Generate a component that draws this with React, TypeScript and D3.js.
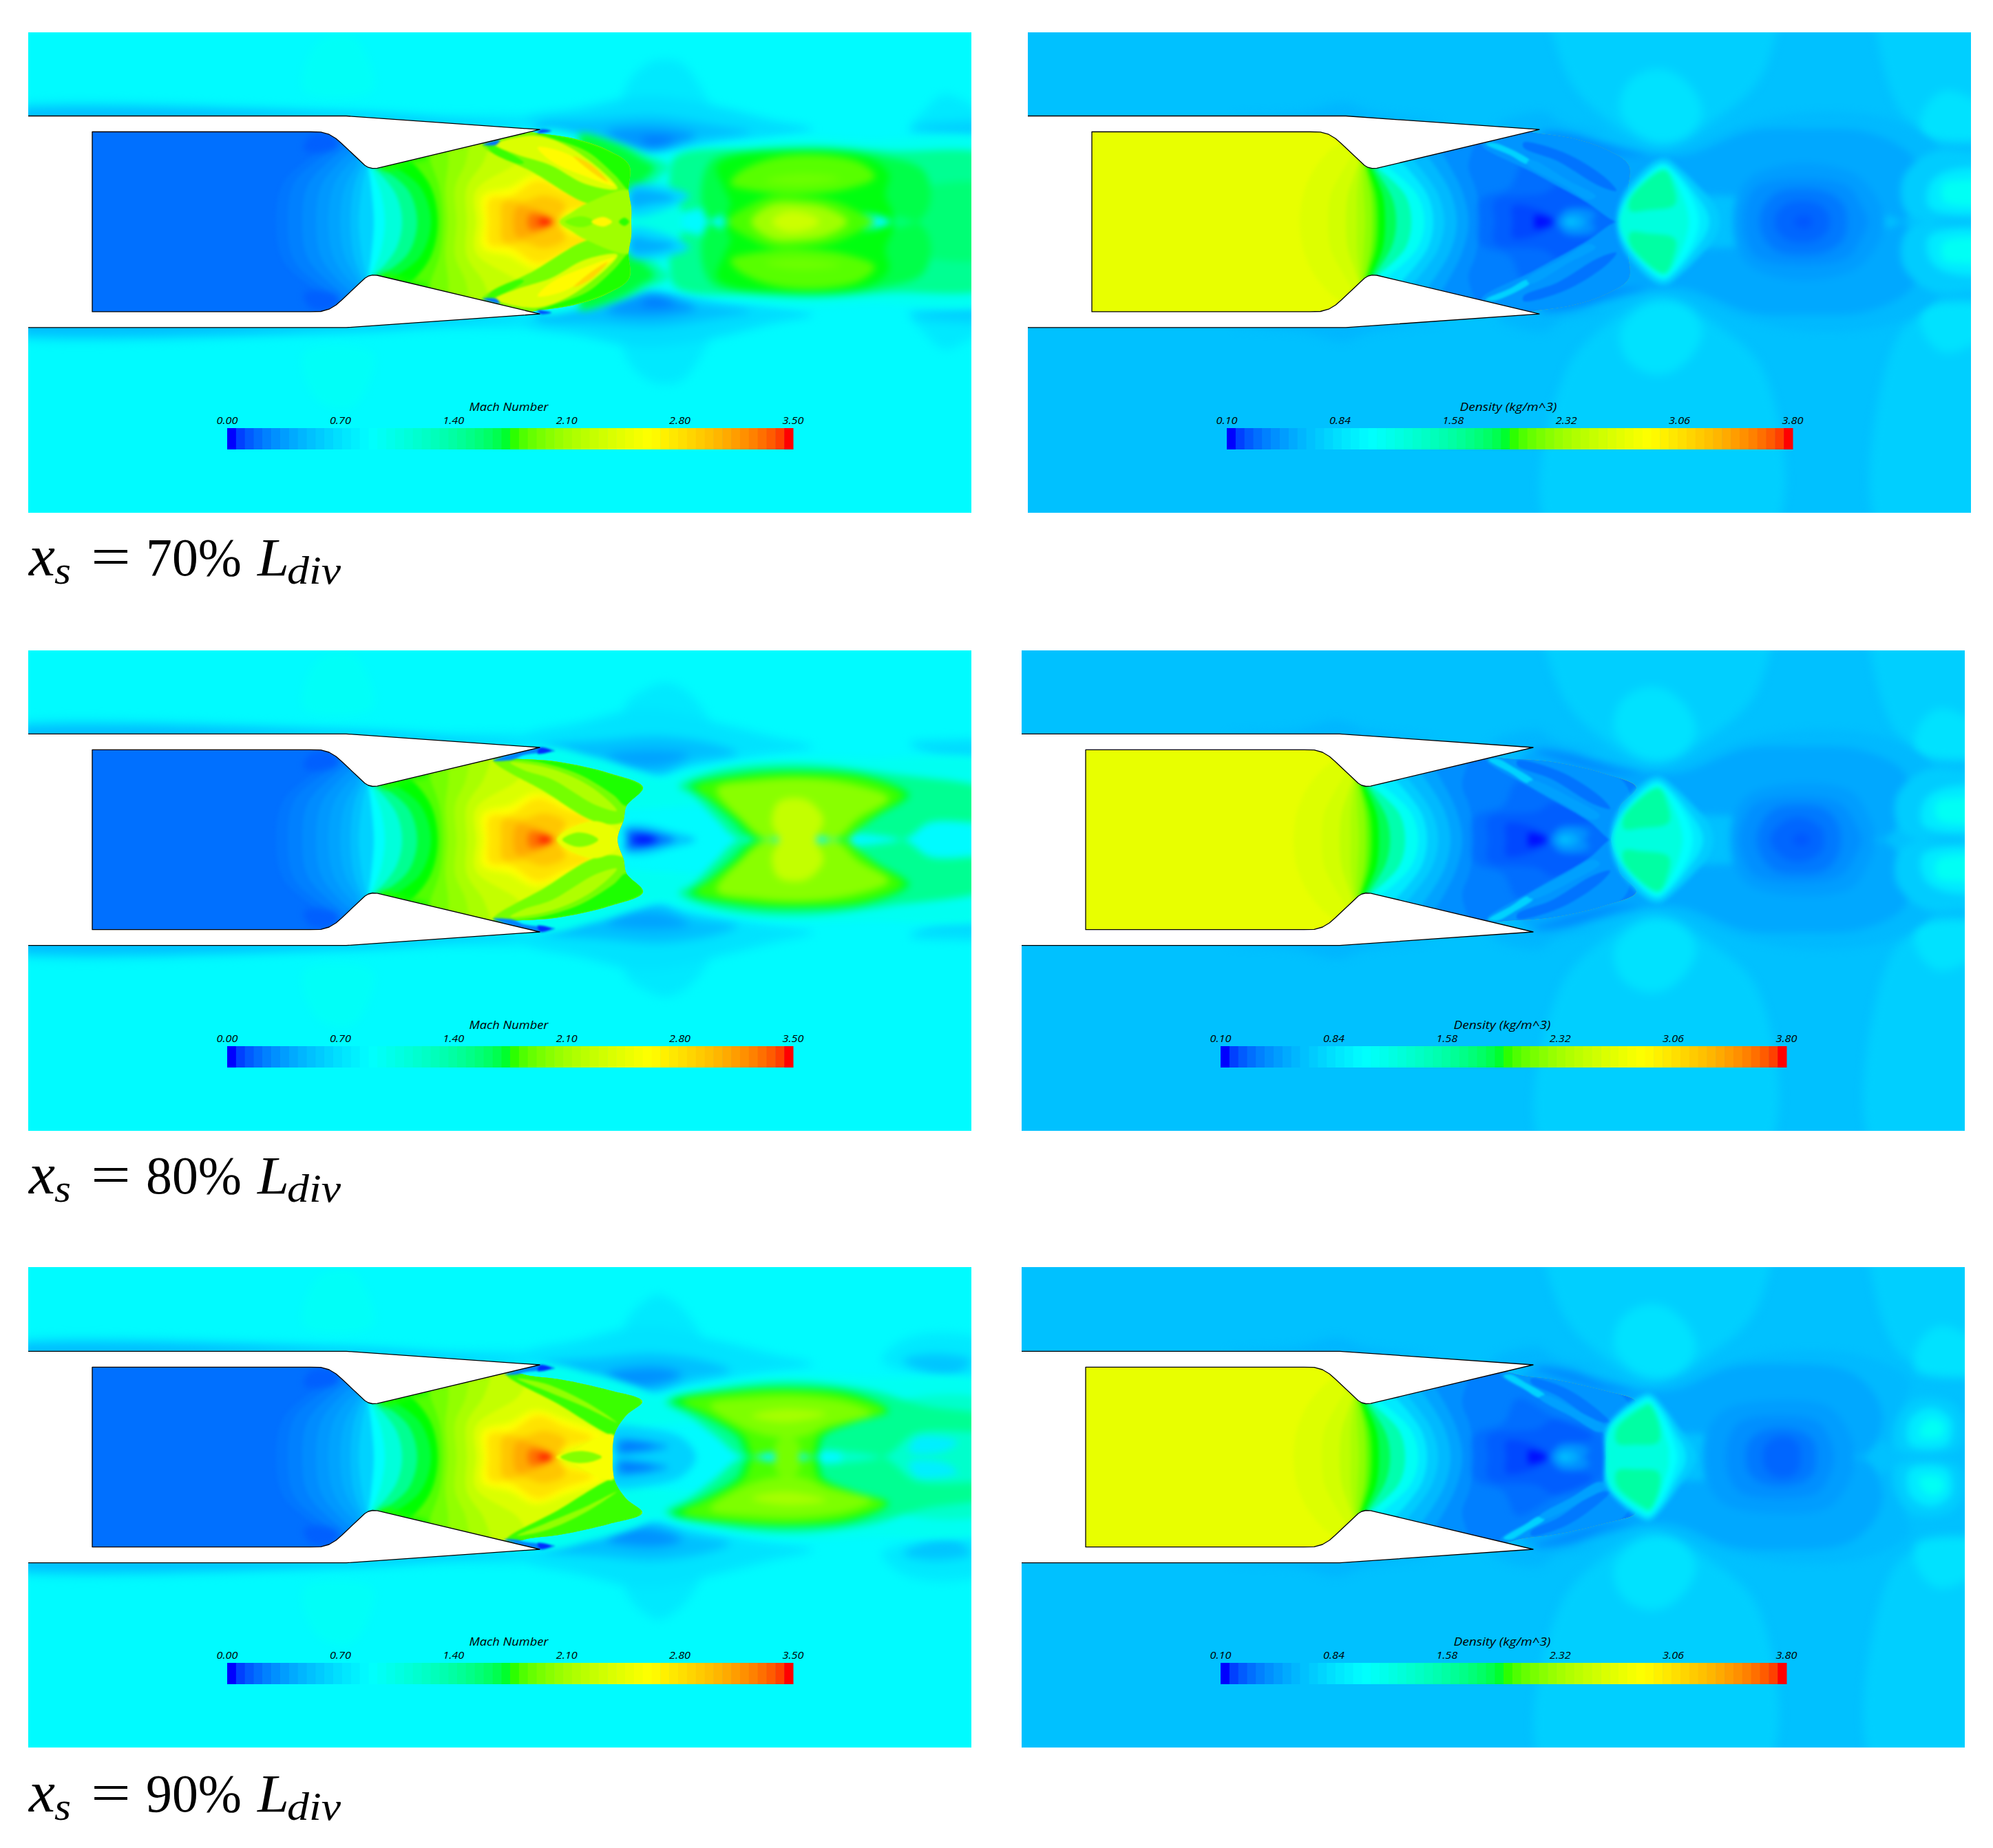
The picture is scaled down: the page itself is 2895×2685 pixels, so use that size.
import React from "react";
import * as d3 from "d3";

type Layer = number[];

const machTicks = ["0.00", "0.70", "1.40", "2.10", "2.80", "3.50"];
const densityTicks = ["0.10", "0.84", "1.58", "2.32", "3.06", "3.80"];
const rowLabels = ["70%", "80%", "90%"];

const wallOutline: number[] = [-2,15.37, 46.2,15.37, 74.3,13.4, 50.7,7.78, 50,7.75, 49.4,7.9, 48.9,8.2, 45.5,11.4, 44.7,12.1, 43.7,12.7, 42.5,13.03, 41,13.07, 9.3,13.07];

const machChamberArcs: Layer[] = [
  [.41, 36,0, 37,5.6, 41,9.4, 44.5,12],
  [.44, 37.7,0, 38.6,5.6, 42.6,9.4, 45.8,11.8],
  [.48, 39.8,0, 40.6,5.3, 44,9.1, 46.7,11.2],
  [.52, 41.8,0, 42.5,5.1, 45.3,8.8, 47.6,10.7],
  [.56, 43.6,0, 44.3,5.1, 46.6,8.5, 48,9.5],
  [.6, 45.3,0, 46,5.1, 47.8,8.3],
  [.66, 46.8,0, 47.3,5.1, 48.5,8.2],
  [.72, 48,0, 48.5,5.1, 49.1,8],
  [.87, 50.2,0, 49.8,5.1, 49.4,8],
  [1.0, 51.8,0, 51.1,4.6, 49.7,8],
  [1.25, 54.3,0, 53.4,4, 50.2,8],
  [1.55, 56.5,0, 55.2,4.6, 51.1,8],
  [1.75, 58.5,0, 56.9,5.1, 52.5,8.4],
  [2.03, 59.5,0, 58.5,5, 55.9,8.5, 54.5,9.5],
  [2.15, 60.2,0, 59.7,5, 58.5,8.5, 58,10],
  [2.25, 60.9,0, 60.6,5, 61,8.5, 61,11],
  [2.33, 62.2,0, 62,5, 63.5,8.5, 64,11],
  [2.42, 63.7,0, 63.7,5, 66,8.5, 67,11],
  [2.5, 65,0, 65,4.5, 70.9,8.5, 72,10],
];
const machCore: Layer[] = [
  [.33, 40,10.5, 41,12.5, 44,12.6, 45,11, 42,10],
  [1.85, 50.7,8.2, 55,9.6, 58,10.2, 58,9.3, 55,8.5, 52,7.4],
  [2.62, 66,0, 66,3.8, 70,5, 73.5,6.8, 78,5.5, 84,3, 77,0],
  [2.72, 66.8,0, 67,3.3, 70,3.7, 74,6, 78,4.4, 82,2.8, 78,1.3, 77,0],
  [2.82, 68.7,0, 69,2.9, 72,3, 75,3.8, 78,2.5, 77,0],
  [2.92, 70.5,0, 71,2.2, 73,2, 75.9,.8, 76.5,0],
  [3.11, 72.5,0, 73,1.2, 75,.8, 76.3,0],
  [3.3, 74,0, 74.4,.7, 75.5,.5, 76.2,0],
  [3.48, 74.8,0, 75.3,.3, 75.9,0],
];

const mach70Barrel: Layer = [48,0, 48,8.5, 50.7,8.2, 60,10.5, 66,12, 72,13.3, 73.6,12.95, 79.2,12.1, 84.2,10.4, 87.3,8.2, 87.2,4.5, 87.6,2, 87.6,0];
const mach80Barrel: Layer = [48,0, 48,8.5, 50.7,8.2, 60,10.5, 67.5,12.1, 70.3,11.8, 76.7,11.35, 84.4,9.65, 89.3,7.6, 86.9,4.9, 86.5,2.9, 85.6,0];
const mach90Barrel: Layer = [48,0, 48,8.5, 50.7,8.2, 60,10.5, 69.1,12.5, 72.9,11.8, 77.4,11.25, 84.4,9.7, 89.2,8.1, 86.9,6.1, 85.3,3.7, 84.9,1.7, 84.9,0];

const mach70Outer: Layer[] = [
  [.9, 40,19, 42,26, 47,27, 50,22, 50,19],
  [.8, 86,14, 87,20, 90,23, 92.5,23.6, 95,23, 98,19, 100,14, 93,11],
  [.8, 128,13, 130,16, 133,18.5, 136,17.5, 141,14, 141,13],
  [.8, -5,16.4, 46,16.3, 60,15.6, 74,15, 74,14, 46,15, -5,15],
  [.66, -5,15.8, 46,15.8, 60,14.8, 74,13.9, 60,14, 46,15, -5,15],
  [.76, 72,15, 80,16.5, 90,18.2, 100,16.8, 108,14.8, 114,13.5, 108,12.3, 100,11.5, 90,10, 74,13],
  [.66, 74,14.2, 82,14.8, 91,15.3, 100,14, 105,13, 96,11.5, 91,9.8, 84,11, 74,13],
  [.72, 128,13.8, 133,14.5, 141,14.2, 141,12.8, 133,12.8],
  [.52, 84,13, 91,13.7, 97,12.5, 92,10.8, 88,11],
  [.42, 89,12, 92,12.3, 94,11.8, 92,11, 90,11],
];
const mach70Plume: Layer[] = [
  [.92, 74,13, 80,12.8, 86,11, 90,9.7, 92,9.6, 100,11, 112,12.3, 122,11.9, 141,11, 141,0, 70,0],
  [1.25, 94,9.4, 105,10.7, 115,11, 125,10.3, 141,9, 141,0, 92,0, 93,5],
  [1.35, 125,0, 127,4, 141,5, 141,0],
  [1.5, 99,8.7, 108,10.2, 116,10.5, 124,9.5, 130,7.5, 131,3, 129,0, 99,0],
  [1.7, 100,8, 103,9.7, 112,10.2, 122,9.3, 125,7, 124.5,4, 125.5,0, 101,0, 102,2.5, 101,5],
  [2.05, 103,7, 108,9.2, 115,9.7, 121,8.5, 123,6.5, 119,4.8, 112,4, 105,4.6, 102,5.5],
  [2.12, 107,6, 112,7, 118,6.3, 112,5.3],
  [2.0, 101.6,0, 105,2.5, 108,3.7, 112,3.7, 117,3, 121,1.2, 123,0],
  [2.3, 105,0, 108,2.5, 112,2.7, 116,2, 119,0],
  [2.45, 108,0, 110,1.4, 113,1.2, 115,0],
  [.95, 87,0, 87.5,6, 90.5,7, 93,5.5, 94.5,3, 95,0],
  [1.2, 80,12.8, 86,11.4, 90,9.6, 93,8, 91.5,6.4, 88.5,4.6, 85,5],
  [1.55, 80,12.5, 86,11, 89,9.2, 91,7.8, 89.5,6.2, 87.8,4.6, 85,5],
  [.74, 87.5,1, 87.5,5.2, 91,5.4, 96,3.8, 92,1.6],
  [.6, 87.7,2.3, 87.7,4.4, 91,4.4, 94,3.4, 90.5,2.6],
];
const mach70Shocks: Layer[] = [
  [2.15, 65.9,11.3, 73.5,7.1, 81.2,2.7, 85,2.7, 88,3, 88.5,11, 76,13.3],
  [1.85, 73.6,12.95, 79.2,12.1, 84.2,10.4, 87.3,8.4, 87.3,4.6, 85.2,6.8, 81.2,10.2, 75.9,12.2],
  [2.5, 67.9,11.2, 73.6,12.5, 79.2,10.5, 85.6,4.8, 80.9,5.5, 75.9,8.2, 70.9,9.8],
  [2.64, 74,10.8, 78,10, 85.2,5.2, 81.2,6.5, 76,8.8],
  [2.76, 79.2,9.5, 81.9,8.2, 84.2,5.8, 81.9,7.2],
  [1.95, 66.5,11.3, 68,10.9, 72,8.6, 71.5,8.4, 67.5,10],
  [2.3, 77.2,0, 79,1.4, 81.2,2.7, 87.3,4.5, 87.6,0],
  [2.15, 78,0, 79.5,.7, 81,.7, 82.2,0],
  [2.65, 81.8,0, 83.5,.7, 84.8,0],
  [1.9, 85.8,0, 86.6,.6, 87.3,0],
];
const mach70After: Layer[] = [
  [.4, 66,11.2, 68.5,11.9, 68,11.2],
  [.25, 74.4,13.4, 76,13.2, 74,12.9],
];

const mach80Outer: Layer[] = [
  [.9, 40,19, 42,26, 47,27, 50,22, 50,19],
  [.8, 86,14, 87,20, 90,22, 92.5,22.8, 95,22, 98,19, 100,14, 93,11],
  [.8, -5,16.4, 46,16.3, 60,15.6, 74,15, 74,14, 46,15, -5,15],
  [.66, -5,15.8, 46,15.8, 60,14.8, 74,13.9, 60,14, 46,15, -5,15],
  [.78, 72,15, 80,17, 90,19, 100,17, 108,15, 114,13.5, 105,12, 95,10, 90,9.5, 80,11.5, 74,13],
  [.66, 75,13.5, 84,14.5, 92,15, 100,13.8, 103,12.5, 96,11.2, 92,9.3, 86,10.5],
  [.76, 128,14, 133,14.5, 141,14, 141,12.5, 133,12],
  [.56, 84,12.2, 91,13, 96,12.3, 92,10.8, 88,10.8],
];
const mach80Plume: Layer[] = [
  [.92, 74,13, 82,12, 88,10, 92,8.9, 96,10, 105,11.5, 112.4,12, 122,11.8, 141,10.5, 141,0, 70,0],
  [1.25, 94.5,7.7, 100,10, 112,11, 125,9.6, 141,6.5, 141,3, 131,2.5, 127,0, 103.5,0, 100,3, 96.5,6.5],
  [1.6, 96,7.8, 103,9.5, 112.4,10, 122,9.2, 128,6.5, 123.5,3.5, 120.5,1.5, 118.3,0, 105.5,0, 102,3, 98.5,6],
  [1.95, 97,7.6, 104,9.2, 112.4,9.6, 122,8.8, 127,6.4, 123,3.5, 120.5,1.5, 118.8,0, 106.5,0, 103,3, 99,6],
  [2.22, 100,7.4, 106,8.6, 113,8.9, 120,8, 125,6, 120.5,3, 117,0, 107.5,0, 103.5,3],
  [2.42, 109,0, 108,2.5, 109,5.5, 113,5.8, 115.5,3, 114.5,0],
  [.68, 86.5,0, 86.5,1.8, 89,2.2, 93,1.3, 97,0],
  [.4, 87,0, 87,1.3, 90,1.2, 92.5,.6, 94,0],
  [.15, 87.5,0, 88,.7, 90,.7, 91.5,0],
  [.05, 88.5,0, 89,.4, 90.5,.3, 91,0],
];
const mach80Shocks: Layer[] = [
  [2.15, 67.5,11.6, 75,7, 82.5,2.6, 86.5,2.6, 90,7.5, 77,12, 70,12.3],
  [1.85, 69,11.8, 76.7,11.4, 84.4,9.7, 89.3,7.6, 86.9,4.9, 85,6.5, 80,9.5, 74,11.3],
  [2.35, 70,11.2, 76,10.3, 82,7.5, 85.5,4.2, 82.5,5, 76,8.8, 72,10.1],
  [2.55, 76.8,0, 78.5,1.5, 82.5,2.7, 85.6,1.2, 85.7,0],
  [2.2, 77.6,0, 79.5,1, 81.5,.8, 82.8,0],
];
const mach80After: Layer[] = [
  [.45, 67.5,11.5, 70,12.4, 74.3,13.4, 76.5,12.9, 72,12.3, 70.3,11.6],
  [.15, 74.4,13.4, 76,12.9, 74,12.5],
];

const mach90Outer: Layer[] = [
  [.9, 40,19, 42,26, 47,27, 50,22, 50,19],
  [.8, 86,14, 87,20, 90,23, 91.5,23.6, 94,22.5, 97,19, 99,14, 93,11],
  [.8, -5,16.4, 46,16.3, 60,15.6, 74,15, 74,14, 46,15, -5,15],
  [.66, -5,15.8, 46,15.8, 60,14.8, 74,13.9, 60,14, 46,15, -5,15],
  [.78, 72,15, 80,17, 90,19, 100,17, 108,15, 114,13.5, 105,12, 95,10, 90,9.5, 80,11.5, 74,13],
  [.8, 124,14, 127,17, 134,18, 141,16, 141,12, 130,12],
  [.66, 75,13.5, 84,14.5, 91,15, 99,13.8, 102,12.5, 96,11.2, 91,9.3, 86,10.5],
  [.68, 127,14, 131.6,15, 137,14, 135,12.2, 131.6,12],
  [.5, 84,12, 90.8,13, 95,12, 91,10.5, 87,10.5],
];
const mach90Plume: Layer[] = [
  [.92, 74,13, 82,12, 88,10.2, 91,8.9, 96,10, 105,11.5, 112,12, 122,11.6, 141,10, 141,0, 70,0],
  [1.05, 118,0, 122,5, 128,8.5, 141,7.5, 141,0],
  [1.25, 92.5,8, 100,10, 111,11, 122,9.8, 130,7.5, 141,5.5, 141,4, 129,3.5, 124,0, 104,0, 100,3, 96,6],
  [1.65, 93.5,8.2, 102,9.6, 111,10, 120,9.2, 125,6.7, 120,5, 115.5,3, 114.5,0, 104.8,0, 103,3, 98,6],
  [2.0, 95,8.1, 103,9.4, 111,9.7, 119,8.9, 124.5,6.7, 119.5,5, 114.8,3, 113.7,0, 105.5,0, 104,3, 99,6],
  [2.18, 99,7.6, 106,8.6, 113,8.7, 120,7.6, 122.5,6.2, 116,4.5, 112.5,3, 108,3, 103.5,4.5],
  [2.15, 108.5,0, 108.5,1.8, 110,3, 112,2, 112,0],
  [2.32, 105,6, 110,7, 116,6.3, 110,5],
  [.82, 128,.8, 129,2.8, 132,3, 135,2.2, 133,.8],
  [.72, 85,0, 85,4.2, 90,4.2, 95,2.8, 97,0],
  [.55, 85.5,.6, 85.5,2.5, 89,2.5, 93,1.5, 89,.6],
  [.42, 86,1, 86.5,2, 89,1.9, 91,1.5, 88,1],
];
const mach90Shocks: Layer[] = [
  [1.95, 69.5,12, 77,7.7, 84.7,3.2, 86,3.2, 89.2,8.1, 80,11.5, 73,12.4],
  [2.25, 71,11.4, 75,10.7, 81,8, 85.5,5, 81,7.2, 75,9.7],
  [2.6, 76.7,0, 79,.9, 84.9,3.3, 85,0],
  [2.2, 77.3,0, 79.3,.8, 81.7,.7, 83.3,0],
];
const mach90After: Layer[] = [
  [.45, 69.1,12, 71,12.6, 74.3,13.4, 76.5,12.9, 72,12.3, 71,12],
  [.15, 74.4,13.4, 76,12.9, 74,12.5],
];

const densityChamberArcs: Layer[] = [
  [2.75, 39.5,0, 40,4, 41.5,7.5, 44,10.5, 45.5,11.5],
  [2.71, 43.6,0, 44,4, 45.5,7, 47,9.5],
  [2.64, 46.2,0, 46.5,4, 47.3,6.5, 48,8.5],
  [2.56, 47.8,0, 47.8,4, 48.2,8],
  [2.46, 49,0, 48.8,4, 48.6,8],
  [2.3, 50,0, 49.8,4, 49,8],
  [2.12, 50.6,0, 50.3,4, 49.2,8],
  [1.95, 51,0, 50.7,4, 49.4,8],
  [1.65, 51.9,0, 51.5,4, 49.8,7.8],
  [1.32, 53.5,0, 52.9,3.5, 50.3,7.8],
  [1.06, 55.7,0, 54.8,3.9, 50.8,7.8],
  [.95, 57.6,0, 56.5,4, 52,8.2],
  [.84, 58.9,0, 58,4, 54,9],
  [.77, 60.5,0, 59.5,4.2, 56,9],
  [.69, 62.3,0, 61.3,4.5, 58,9.7],
  [.62, 64,0, 63,4.7, 60,10.3],
  [.56, 65.9,0, 65,5, 64,8, 65,11.5],
];
const densityCore: Layer[] = [
  [.5, 65.5,0, 65.8,3.3, 70,5, 72,8.5, 77.5,5.8, 84,3.2, 86,0],
  [.44, 67.8,0, 67.8,3.1, 74.9,4.1, 77.4,5.5, 83,3, 77.5,1.1, 76.5,0],
  [.36, 70.4,0, 70.4,2.3, 73,2.2, 76.3,.7, 76.5,0],
  [.155, 73.6,0, 73.6,.9, 75.5,.6, 76.3,0],
  [.62, 77,0, 78,1.7, 81,1.9, 82.5,.9, 81.8,0],
  [.72, 77.6,0, 78.5,.9, 80.2,.9, 81,0],
  [.82, 78.2,0, 78.9,.4, 79.6,0],
];
const densityBands: Layer[] = [
  [.85, 76,45, 78,22, 84,15, 92,11, 100,15, 107,22, 108,45],
  [.85, 124,45, 125,20, 129,14, 141,14, 141,45],
  [.92, 86,16, 87,20, 90,22, 93,22, 96,20, 98,16, 96,12.5, 92.5,11.5, 89,12.5],
  [.92, 130,12.5, 130,16, 133,19, 137,18, 141,15, 141,12.5],
  [.76, 30,15.3, 40,16, 45.8,17.4, 50,16, 60,14.5, 46,14.5],
  [.76, 68,14, 74.9,16, 78,14, 84,13, 74,12.5],
];
const density70Rings: Layer[] = [
  [.77, 74,13.5, 84,12, 92,10, 105,14.5, 115,16, 125,15, 131,12, 135,8, 141,7, 141,0, 60,0],
  [.71, 74,13, 84,11.5, 91,9.8, 96,9.8, 105,13.2, 113,13.5, 122,13, 128,10, 130,6, 127,0, 70,0],
  [.67, 102.5,0, 103,3.5, 105,6.5, 112,8.5, 120,7, 123,4, 124.5,0],
  [.62, 104,0, 104.5,3, 106,5.2, 112.5,6.3, 119,5.2, 121,2.5, 122,0],
  [.54, 106.3,0, 107,2.5, 109,4.3, 112.5,4.8, 116,4.3, 118.5,2.5, 119,0],
  [.47, 108.5,0, 109,1.6, 110.5,2.7, 112.5,3, 114.5,2.7, 116,1.6, 116.5,0],
  [.42, 111.2,0, 112.5,1, 113.8,.6, 114,0],
  [.62, 74.5,13, 80,12.5, 86,10.5, 90,9.6, 85,9.8, 78,11.5],
  [.84, 128,1, 127,6, 131,10, 137,10, 141,9.5, 141,1],
  [.95, 131,2, 131,5.5, 134,7.5, 141,7, 141,2],
  [1.06, 133,3, 133,5.5, 135,6, 141,5.5, 141,3],
];
const density80Rings: Layer[] = [
  [.77, 74,13.5, 84,12, 92,10, 105,14.5, 115,16, 125,15, 131,12, 135,8, 141,7, 141,0, 60,0],
  [.71, 74,13, 84,11.5, 91,9.8, 96,9.8, 105,13.2, 113,13.5, 122,13, 128,10, 129,6, 125,0, 70,0],
  [.67, 103,0, 103.5,3.5, 105.5,6.5, 113,8.2, 120.5,7, 123,3.5, 124,0],
  [.62, 104.3,0, 105,3, 106.5,5.2, 113,6.3, 119,5.2, 121,2.5, 122,0],
  [.54, 106.8,0, 107.5,2.5, 109.5,4.5, 113,5, 116.5,4.5, 118.5,2.5, 119,0],
  [.47, 108.7,0, 109.5,1.6, 111,2.8, 113,3.2, 115,2.6, 116.3,1.5, 116.5,0],
  [.42, 111.9,0, 113,.9, 114.3,.6, 114.5,0],
  [.62, 74.5,13, 80,12.5, 86,10.5, 90,9.6, 85,9.8, 78,11.5],
  [.84, 128,1, 127,6, 131,10, 137,10, 141,9.5, 141,1],
  [.95, 131,2, 131,5.5, 134,7.5, 141,7, 141,2],
  [1.06, 133,3, 133,5.5, 135,6, 141,5.5, 141,3],
];
const density90Rings: Layer[] = [
  [.77, 74,13.5, 84,12, 91,10, 103,14, 113,15.5, 123,14.5, 129,11, 128,7, 131,0, 60,0],
  [.71, 74,13, 84,11.5, 90,9.8, 95,9.8, 103,13, 111,13.5, 120,12.5, 124,9, 125,5, 122,0, 70,0],
  [.67, 99,0, 99.5,3.5, 102,6.8, 109,8.2, 117,7.4, 120,4, 121,0],
  [.62, 102.3,0, 102.8,3, 104.5,5.2, 110,6, 115.5,5.2, 117.2,3, 118,0],
  [.54, 105.2,0, 105.5,2, 107,3.5, 110.3,4.2, 113.7,3.5, 115.2,2, 115.4,0],
  [.47, 107.7,0, 107.9,1.5, 109,2.6, 110.5,3, 112.2,2.6, 113,1.5, 113.1,0],
  [.62, 74.5,13, 80,12.5, 85,10.5, 89,9.6, 84,9.8, 78,11.5],
  [.84, 127,1.2, 127,5.5, 130,8.5, 135,8, 137,5, 136,1.2],
  [.95, 129,1.8, 129,5.5, 132,7.2, 135,5.5, 134.5,1.8],
  [1.06, 130.5,3, 131,5, 132.5,5.6, 134,4.5, 133.5,3],
];
const density70Shocks: Layer[] = [
  [.64, 65.9,11.3, 73.5,7.1, 81.2,2.8, 85.5,0, 88,0, 88,8, 84,11, 76,13],
  [.52, 72,11.5, 78,10, 84,6.3, 85.5,4.5, 83,5.2, 77,8.8, 72,10.8],
  [.86, 66.5,11.3, 70,9.7, 72.5,8.4, 73,8.8, 70.5,10.4, 67.5,11.5],
  [.68, 72.5,8.4, 78,5.2, 81.5,3.2, 82.5,3.7, 78.5,6, 73,9],
];
const density80Shocks: Layer[] = [
  [.64, 67.5,11.6, 75,7, 82.5,2.6, 85.6,0, 88,0, 88,7.6, 84,10.5, 76,12, 70,12.3],
  [.52, 72,11.5, 78,10, 84,6.3, 85.5,4.5, 83,5.2, 77,8.8, 72,10.8],
  [.86, 67.8,11.6, 71,9.7, 73.5,8.2, 74.3,8.6, 71.5,10.5, 69,11.8],
  [.68, 73.5,8.2, 79,5, 83,2.9, 84,3.5, 80,6, 74.3,8.6],
];
const density90Shocks: Layer[] = [
  [.64, 69.5,12, 77,7.7, 84.7,3.2, 85,0, 88,0, 88,8, 84,10.5, 76,12, 71,12.5],
  [.54, 74,11.4, 79,10, 84,6.6, 85.5,5, 83,5.5, 78,8.8, 74,10.8],
  [.86, 70,11.8, 73,9.9, 75.2,8.6, 76,9, 73.2,10.8, 71,12],
  [.68, 75.2,8.6, 80,5.8, 84,3.6, 85,4.2, 81,6.6, 76,9],
];
const lensWide: Layer[] = [
  [.84, 85.5,0, 86.5,4, 91,8.8, 92.7,9.2, 95,7.5, 98,4.5, 100,2, 100.5,0],
  [.95, 85.8,0, 87,3.5, 91,8, 92.5,8.5, 94.5,7, 97,4, 98.5,1.8, 99,0],
  [1.03, 85.9,0, 87,3.5, 91.5,7.9, 92.5,8.2, 94,7, 96.2,4, 97.2,1.8, 97.5,0],
  [1.14, 86,0, 87.2,3.3, 91.5,7.5, 92.5,7.8, 93.8,6.5, 95.2,3.5, 95.8,1.5, 96,0],
  [1.36, 87.5,1.6, 87.5,3.4, 91.5,7.2, 92.7,7.4, 93.7,5.5, 94,2.5, 90,1.7],
];
const lensFlat: Layer[] = [
  [.84, 84.7,0, 85,4.4, 90,9, 91.3,9.3, 93.5,7, 96,3.5, 97.5,1.5, 98,0],
  [.95, 84.8,0, 85.3,4.4, 90,8.5, 91.1,8.8, 93,7, 95,3.5, 96.2,1.5, 96.5,0],
  [1.03, 84.9,0, 85.5,4.4, 90.3,8.2, 91.1,8.5, 92.8,6.5, 94.3,3.5, 95,1.5, 95.3,0],
  [1.14, 85,0, 85.7,4.4, 90.3,7.8, 91.1,8.1, 92.5,6, 93.5,3, 94,1.2, 94,0],
  [1.36, 86.5,2, 86.5,4.2, 90.5,7.4, 91.2,7.6, 92.5,5, 92.5,2.2, 89,1.8],
];

const rainbowStops = ["#0000ff", "#00ffff", "#00ff00", "#ffff00", "#ff0000"];
const rainbow = d3.scaleLinear<string>().domain([0, .25, .5, .75, 1]).range(rainbowStops).clamp(true);
const barColor = (t: number) => {
  const s = (t % .25) / .25;
  if (t < .25) return d3.rgb(0, 255 * Math.sqrt(s), 255).formatHex();
  if (t < .5) return d3.rgb(0, 255, 255 * Math.sqrt(1 - s)).formatHex();
  if (t < .75) return d3.rgb(255 * Math.sqrt(s), 255, 0).formatHex();
  if (t < 1) return d3.rgb(255, 255 * Math.sqrt(1 - s), 0).formatHex();
  return "#ff0000";
};
const machColor = d3.scaleLinear().domain([0, 3.5]).range([0, 1]);
const densityColor = d3.scaleLinear().domain([.1, 3.8]).range([0, 1]);

const sx = d3.scaleLinear().domain([0, 137]).range([0, 1370]);
const pairs = (f: number[]) => d3.range(0, f.length, 2).map((i) => [f[i], f[i + 1]] as [number, number]);
const mirror = (p: [number, number][]) => p.map(([x, y]) => [x, -y] as [number, number]);

function makeGeom(center: number) {
  const sy = d3.scaleLinear().domain([0, 10]).range([center, center - 100]);
  const closed = d3.line<[number, number]>().x((d) => sx(d[0])).y((d) => sy(d[1])).curve(d3.curveCatmullRomClosed.alpha(.5));
  const open = d3.line<[number, number]>().x((d) => sx(d[0])).y((d) => sy(d[1])).curve(d3.curveCatmullRom.alpha(.5));
  const straight = d3.line<[number, number]>().x((d) => sx(d[0])).y((d) => sy(d[1])).curve(d3.curveLinearClosed);
  const shape = (f: number[]) => {
    const p = pairs(f);
    if (p[0][1] === 0 && p[p.length - 1][1] === 0) {
      return closed(p.concat(mirror(p.slice(1, -1)).reverse())) as string;
    }
    return (closed(p) as string) + (closed(mirror(p)) as string);
  };
  const arc = (f: number[]) => {
    const p = pairs(f);
    const full = mirror(p.slice(1)).reverse().concat(p);
    const last = p[p.length - 1];
    const far = (x: number, y: number) => `L${sx(x)},${sy(y)}`;
    return (open(full) as string) + far(last[0] + 1, 17) + far(110, 17) + far(110, -17) + far(last[0] + 1, -17) + "Z";
  };
  const solid = () => {
    const p = pairs(wallOutline);
    return straight(p.concat(mirror(p).reverse())) as string;
  };
  return { sy, shape, arc, solid };
}

type PanelSpec = {
  id: string; kind: "mach" | "density"; x: number; y: number; center: number;
  base: number; chamber: number; barrel: Layer;
  outer: Layer[]; plume: Layer[]; arcs: Layer[]; core: Layer[]; shocks: Layer[]; after: Layer[];
  title: string; ticks: string[];
};

const rowY = [47, 945, 1841];
const rowCenter = [275.2, 275, 276];
const densityX = [1493, 1484, 1484];
const machRows = [
  { outer: mach70Outer, plume: mach70Plume, barrel: mach70Barrel, shocks: mach70Shocks, after: mach70After },
  { outer: mach80Outer, plume: mach80Plume, barrel: mach80Barrel, shocks: mach80Shocks, after: mach80After },
  { outer: mach90Outer, plume: mach90Plume, barrel: mach90Barrel, shocks: mach90Shocks, after: mach90After },
];
const densityRows = [
  { rings: density70Rings, barrel: mach70Barrel, shocks: density70Shocks, lens: lensWide },
  { rings: density80Rings, barrel: mach80Barrel, shocks: density80Shocks, lens: lensWide },
  { rings: density90Rings, barrel: mach90Barrel, shocks: density90Shocks, lens: lensFlat },
];
const panels: PanelSpec[] = rowY.flatMap((y, i) => [
  { id: `m${i}`, kind: "mach" as const, x: 41, y, center: rowCenter[i], base: .86, chamber: .385, arcs: machChamberArcs, core: machCore, title: "Mach Number", ticks: machTicks, ...machRows[i] },
  { id: `d${i}`, kind: "density" as const, x: densityX[i], y, center: rowCenter[i], base: .8, chamber: 2.79, outer: densityBands, plume: densityRows[i].rings, barrel: densityRows[i].barrel, arcs: densityChamberArcs, core: densityCore, shocks: densityRows[i].shocks, after: densityRows[i].lens, title: "Density (kg/m^3)", ticks: densityTicks },
]);

const Field = ({ layers, d, fill }: { layers: Layer[]; d: (f: number[]) => string; fill: (v: number) => string }) => (
  <>
    {layers.map((l, i) => (
      <path key={i} d={d(l.slice(1))} fill={fill(l[0])} />
    ))}
  </>
);

const barScale = d3.scaleLinear().domain([0, 5]).range([289, 1111]);
const bandIndex = d3.range(64);
const bandX = d3.scaleBand<number>().domain(bandIndex).range([289, 1111]);

function Panel({ p }: { p: PanelSpec }) {
  const g = makeGeom(p.center);
  const norm = p.kind === "mach" ? machColor : densityColor;
  const fill = (v: number) => rainbow(norm(v) as number);
  const clipD = g.shape(p.barrel);
  return (
    <g transform={`translate(${p.x},${p.y})`} clipPath="url(#panelClip)">
      <defs>
        <clipPath id={`in-${p.id}`}>
          <path d={clipD} />
          <rect x={0} y={g.sy(14)} width={sx(49)} height={g.sy(-14) - g.sy(14)} />
        </clipPath>
      </defs>
      <rect x={0} y={0} width={1370} height={698} fill={fill(p.base)} />
      <g filter="url(#blurWide)"><Field layers={p.outer} d={g.shape} fill={fill} /></g>
      <g filter="url(#blurPlume)"><Field layers={p.plume} d={g.shape} fill={fill} /></g>
      <g clipPath={`url(#in-${p.id})`}>
        <rect x={0} y={0} width={1370} height={698} fill={fill(p.chamber)} />
        <g filter="url(#blurSmall)"><Field layers={p.arcs} d={g.arc} fill={fill} /></g>
        <g filter="url(#blurCore)"><Field layers={p.core} d={g.shape} fill={fill} /></g>
        <g filter="url(#blurFine)"><Field layers={p.shocks} d={g.shape} fill={fill} /></g>
      </g>
      <g filter={p.kind === "mach" ? "url(#blurFine)" : "url(#blurLens)"}><Field layers={p.after} d={g.shape} fill={fill} /></g>
      <path d={g.solid()} fill="#ffffff" stroke="#000000" strokeWidth={1.3} strokeLinejoin="round" />
      {bandIndex.map((b) => (
        <rect key={b} x={bandX(b)} y={575} width={(bandX.bandwidth() as number) + .5} height={31} fill={barColor(b / 63)} />
      ))}
      <text x={698} y={550} textAnchor="middle" fontFamily="'Open Sans'" fontStyle="italic" fontSize={16} fill="#000"
        textLength={p.kind === "mach" ? 115 : 141} lengthAdjust="spacingAndGlyphs">{p.title}</text>
      {p.ticks.map((t, i) => (
        <text key={t} x={barScale(i)} y={569} textAnchor="middle" fontFamily="'Open Sans'" fontStyle="italic" fontSize={15} fill="#000"
          textLength={31} lengthAdjust="spacingAndGlyphs">{t}</text>
      ))}
    </g>
  );
}

const serif = "'Liberation Serif'";
function RowLabel({ pct, y }: { pct: string; y: number }) {
  return (
    <g fill="#000" fontFamily={serif}>
      <text x={42} y={y} fontStyle="italic" fontSize={84} textLength={38} lengthAdjust="spacingAndGlyphs">x</text>
      <text x={79} y={y + 12} fontStyle="italic" fontSize={56} textLength={24} lengthAdjust="spacingAndGlyphs">s</text>
      <text x={132} y={y} fontSize={80} textLength={58} lengthAdjust="spacingAndGlyphs">=</text>
      <text x={212} y={y} fontSize={78} textLength={139} lengthAdjust="spacingAndGlyphs">{pct}</text>
      <text x={374} y={y} fontStyle="italic" fontSize={78} textLength={46} lengthAdjust="spacingAndGlyphs">L</text>
      <text x={417} y={y + 12} fontStyle="italic" fontSize={58} textLength={78} lengthAdjust="spacingAndGlyphs">div</text>
    </g>
  );
}

export default function App() {
  const blurs: [string, number][] = [["blurWide", 7], ["blurPlume", 5.5], ["blurCore", 5], ["blurLens", 3.2], ["blurSmall", 2.4], ["blurFine", 1.7]];
  return (
    <svg width={2895} height={2685} viewBox="0 0 2895 2685" style={{ position: "absolute", left: 0, top: 0, background: "#fff" }}>
      <defs>
        <clipPath id="panelClip"><rect x={0} y={0} width={1370} height={698} /></clipPath>
        {blurs.map(([id, s]) => (
          <filter key={id} id={id} filterUnits="userSpaceOnUse" x={-100} y={-100} width={1600} height={900} colorInterpolationFilters="sRGB">
            <feGaussianBlur stdDeviation={s} />
          </filter>
        ))}
      </defs>
      {panels.map((p) => <Panel key={p.id} p={p} />)}
      {rowLabels.map((pct, i) => <RowLabel key={pct} pct={pct} y={836 + i * 898} />)}
    </svg>
  );
}
